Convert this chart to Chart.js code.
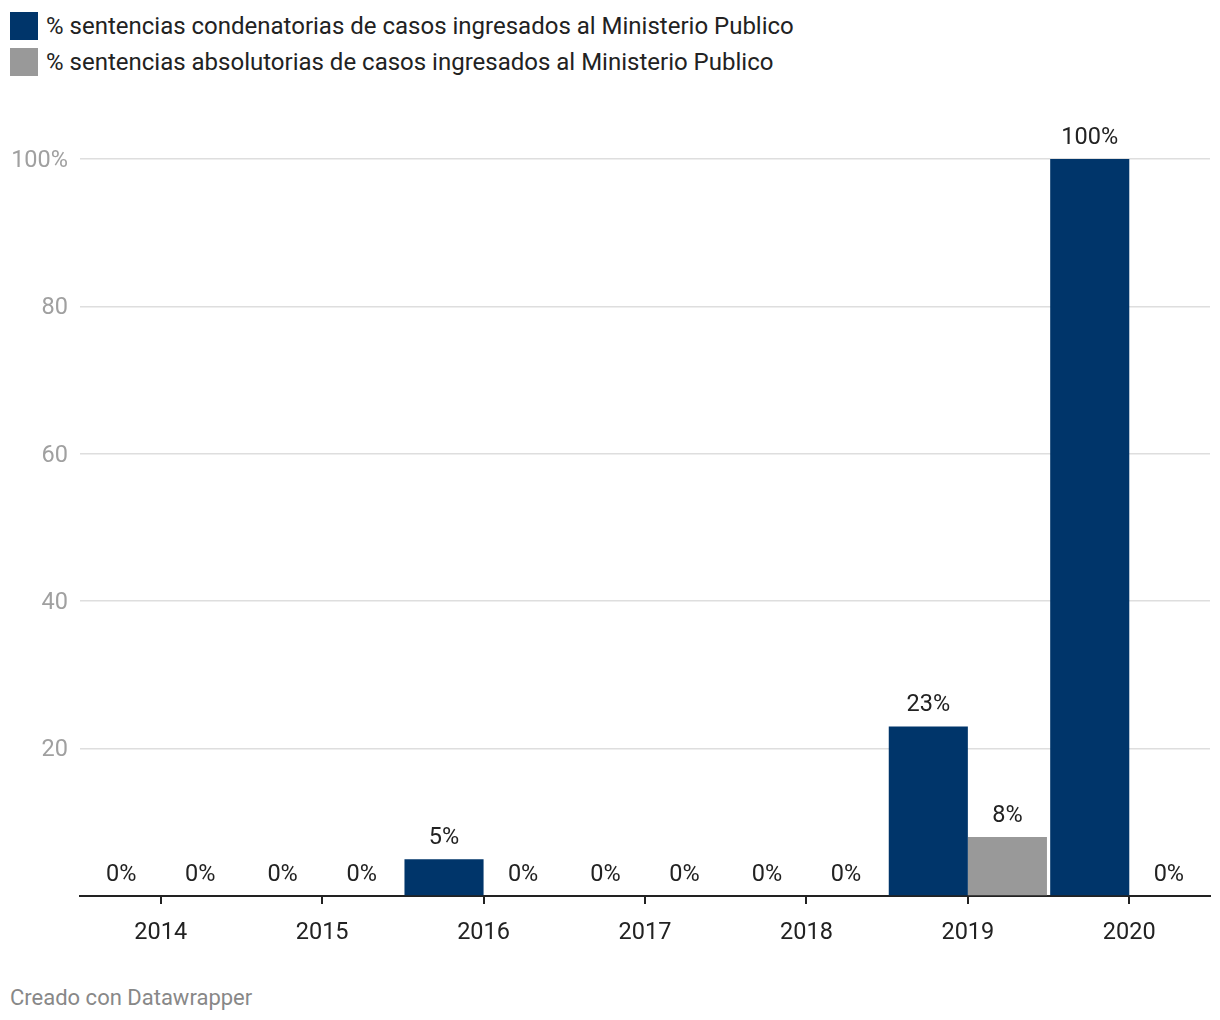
<!DOCTYPE html>
<html>
<head>
<meta charset="utf-8">
<script src="https://cdn.jsdelivr.net/npm/chart.js@4"></script>
<style>
	body { margin: 0; width: 1220px; height: 1020px; background: #fff; font-family: Roboto, sans-serif; position: relative; overflow: hidden; }
	.legend { position: absolute; left: 10px; top: 12px; }
	.legend-item { display: flex; align-items: center; height: 28px; margin-bottom: 8px; font-size: 24px; color: #222; white-space: nowrap; }
	.legend-item span.box { width: 28px; height: 28px; margin-right: 8px; flex: none; }
	.chart-wrap { position: absolute; left: 0; top: 100px; width: 1220px; height: 860px; }
	.footer { position: absolute; left: 10px; top: 985px; font-size: 22px; color: #888; }
</style>
</head>
<body>
<div class="legend"></div>
<div class="chart-wrap"><canvas id="chart"></canvas></div>
<div class="footer">Creado con Datawrapper</div>
<script>
const years = ['2014', '2015', '2016', '2017', '2018', '2019', '2020'];
const condenatorias = [0, 0, 5, 0, 0, 23, 100];
const absolutorias = [0, 0, 0, 0, 0, 8, 0];
const series_names = [
	'% sentencias condenatorias de casos ingresados al Ministerio Publico',
	'% sentencias absolutorias de casos ingresados al Ministerio Publico'
];
const y_ticks = [20, 40, 60, 80, 100];

const colors = ['#00356a', '#999999'];

// legend drawn as html, like the original
const legend = document.querySelector('.legend');
series_names.forEach((name, i) => {
	let item = document.createElement('div');
	item.classList.add('legend-item');
	item.innerHTML = `<span class="box" style="background:${colors[i]}"></span><span>${name}</span>`;
	legend.appendChild(item);
});

const value_labels = {
	id: 'value_labels',
	afterDatasetsDraw(chart) {
		const ctx = chart.ctx;
		ctx.save();
		ctx.font = '23.5px Roboto';
		ctx.fillStyle = '#222';
		ctx.textAlign = 'center';
		ctx.textBaseline = 'alphabetic';
		chart.data.datasets.forEach((ds, i) => {
			chart.getDatasetMeta(i).data.forEach((bar, j) => {
				ctx.fillText(ds.data[j] + '%', bar.x, bar.y - 15);
			});
		});
		ctx.restore();
	}
};

new Chart(document.getElementById('chart'), {
	type: 'bar',
	data: {
		labels: years,
		datasets: [
			{ label: series_names[0], data: condenatorias, backgroundColor: colors[0] },
			{ label: series_names[1], data: absolutorias, backgroundColor: colors[1] }
		]
	},
	options: {
		responsive: true,
		maintainAspectRatio: false,
		animation: false,
		categoryPercentage: 0.98,
		barPercentage: 1,
		layout: { padding: { top: 59, right: 10, left: 0, bottom: 0 } },
		plugins: {
			legend: { display: false },
			tooltip: { enabled: false }
		},
		scales: {
			x: {
				grid: {
					offset: false,
					drawOnChartArea: false,
					drawTicks: true,
					tickLength: 8,
					color: '#222',
					lineWidth: 2
				},
				border: { display: true, color: '#222', width: 2 },
				ticks: { color: '#222', font: { family: 'Roboto', size: 23.5 }, padding: 15, maxRotation: 0 },
				afterFit(scale) { scale.height = 64; }
			},
			y: {
				min: 0,
				max: 100,
				afterBuildTicks(scale) {
					scale.ticks = [0].concat(y_ticks).map(v => ({ value: v }));
				},
				grid: { color: '#dedede', lineWidth: 1.5, drawTicks: false },
				border: { display: false },
				ticks: {
					color: '#a0a0a0',
					font: { family: 'Roboto', size: 23.5 },
					padding: 12,
					labelOffset: 2,
					callback: v => v === 0 ? '' : (v === 100 ? '100%' : v)
				},
				afterFit(scale) { scale.width = 80; }
			}
		}
	},
	plugins: [value_labels]
});
</script>
</body>
</html>
